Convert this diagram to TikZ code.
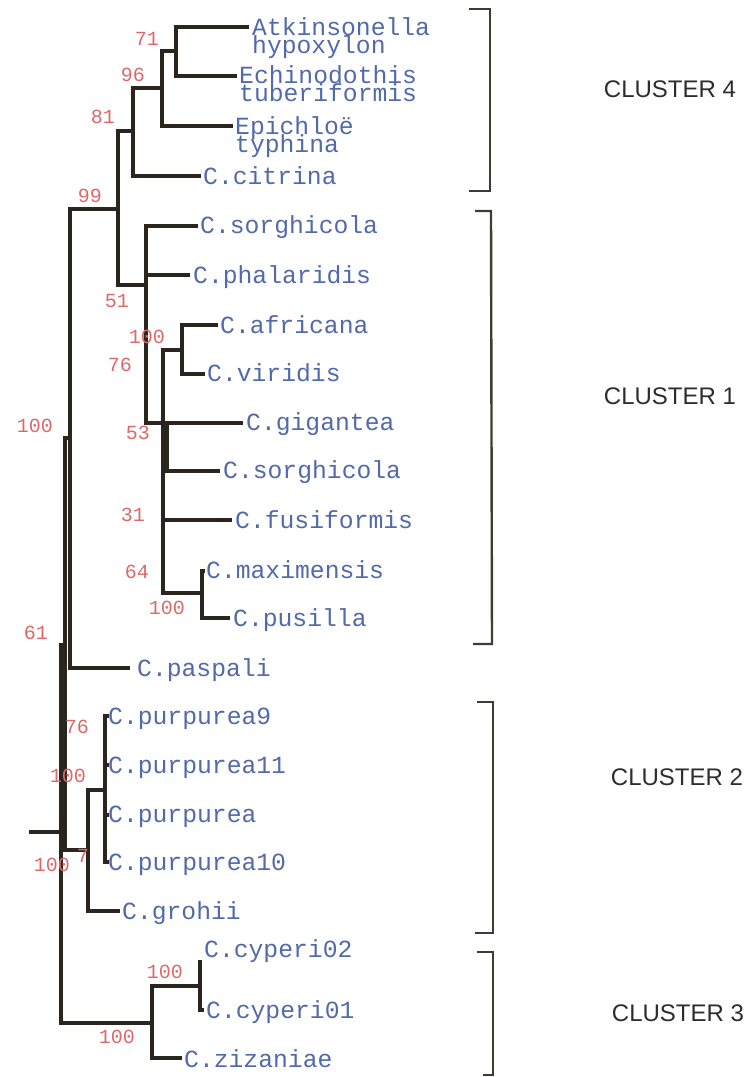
\documentclass[tikz,border=0pt]{standalone}
\usepackage{fontspec}
\setmainfont{Liberation Serif}
\newfontfamily\leaffam{Liberation Mono}
\newfontfamily\clusfam{Liberation Sans}
\definecolor{linecol}{RGB}{42,38,30}
\definecolor{leafblue}{RGB}{82,106,170}
\definecolor{bootred}{RGB}{222,104,104}
\definecolor{clusgray}{RGB}{45,45,45}
\tikzset{
  branch/.style={draw=linecol, line width=3.3pt, line join=miter},
  bracketline/.style={draw=linecol!90, line width=2.4pt},
  leaf/.style={font=\leaffam\fontsize{24.7}{16}\selectfont, text=leafblue, anchor=base west, inner sep=0pt},
  boot/.style={font=\leaffam\fontsize{20}{20}\selectfont, text=bootred, inner sep=0pt},
  clus/.style={font=\clusfam\fontsize{24}{24}\selectfont, text=clusgray, inner sep=0pt}
}
\begin{document}
\begin{tikzpicture}[x=1pt,y=-1pt]
\useasboundingbox (0,0) rectangle (752,1077);
% internal nodes
\coordinate (root0) at (29,832);
\coordinate (root) at (61,832);
\coordinate (nB) at (65,645);
\coordinate (nA) at (70,438);
\coordinate (n99) at (118,209);
\coordinate (n81) at (133,131);
\coordinate (n96) at (162,88);
\coordinate (n71) at (176,51);
\coordinate (n51) at (146,285);
\coordinate (n53) at (163,423);
\coordinate (nAV) at (182,350);
\coordinate (nGS) at (167,447);
\coordinate (n64) at (202,593);
\coordinate (nPG) at (88,850);
\coordinate (nPur) at (105,790);
\coordinate (n3) at (152,1023);
\coordinate (nCy) at (200,986);
% tips
\coordinate (atk) at (249,27);
\coordinate (ech) at (237,76);
\coordinate (epi) at (233,126);
\coordinate (cit) at (201,176);
\coordinate (sor1) at (198,226);
\coordinate (phal) at (190,275);
\coordinate (afr) at (218,325);
\coordinate (vir) at (205,374);
\coordinate (gig) at (243,423);
\coordinate (sor2) at (220,471);
\coordinate (fus) at (232,520);
\coordinate (max) at (205,571);
\coordinate (pus) at (230,618);
\coordinate (pas) at (130,668);
\coordinate (pur9) at (109,716);
\coordinate (pur11) at (109,765);
\coordinate (pur) at (109,815);
\coordinate (pur10) at (109,862);
\coordinate (gro) at (120,911);
\coordinate (cy2) at (202,962);
\coordinate (cy1) at (204,1010);
\coordinate (ziz) at (182,1058);
% branches
\draw[branch] (root0) -- (root);
\draw[branch] (root) |- (nB);
\draw[branch] (root) |- (n3);
\draw[branch] (nB) |- (nA);
\draw[branch] (nB) |- (nPG);
\draw[branch] (nA) |- (n99);
\draw[branch] (nA) |- (pas);
\draw[branch] (n99) |- (n81);
\draw[branch] (n99) |- (n51);
\draw[branch] (n81) |- (n96);
\draw[branch] (n81) |- (cit);
\draw[branch] (n96) |- (n71);
\draw[branch] (n96) |- (epi);
\draw[branch] (n71) |- (atk);
\draw[branch] (n71) |- (ech);
\draw[branch] (n51) |- (sor1);
\draw[branch] (n51) |- (phal);
\draw[branch] (n51) |- (n53);
\draw[branch] (n53) |- (nAV);
\draw[branch] (n53) |- (nGS);
\draw[branch] (n53) |- (fus);
\draw[branch] (n53) |- (n64);
\draw[branch] (nAV) |- (afr);
\draw[branch] (nAV) |- (vir);
\draw[branch] (nGS) |- (gig);
\draw[branch] (nGS) |- (sor2);
\draw[branch] (n64) |- (max);
\draw[branch] (n64) |- (pus);
\draw[branch] (nPG) |- (nPur);
\draw[branch] (nPG) |- (gro);
\draw[branch] (nPur) |- (pur9);
\draw[branch] (nPur) |- (pur11);
\draw[branch] (nPur) |- (pur);
\draw[branch] (nPur) |- (pur10);
\draw[branch] (n3) |- (nCy);
\draw[branch] (n3) |- (ziz);
\draw[branch] (nCy) |- (cy2);
\draw[branch] (nCy) |- (cy1);
% leaf labels
\node[leaf] (Latk1) at (252,35) {Atkinsonella};
\node[leaf] (Latk2) at (252,53) {hypoxylon};
\node[leaf] (Lech1) at (239,83) {Echinodothis};
\node[leaf] (Lech2) at (239,101) {tuberiformis};
\node[leaf] (Lepi1) at (235,134) {Epichloë};
\node[leaf] (Lepi2) at (235,152) {typhina};
\node[leaf] (Lcit) at (203,184) {C.citrina};
\node[leaf] (Lsor1) at (200,233) {C.sorghicola};
\node[leaf] (Lphal) at (193,283) {C.phalaridis};
\node[leaf] (Lafr) at (220,333) {C.africana};
\node[leaf] (Lvir) at (207,381) {C.viridis};
\node[leaf] (Lgig) at (246,430) {C.gigantea};
\node[leaf] (Lsor2) at (223,478) {C.sorghicola};
\node[leaf] (Lfus) at (235,528) {C.fusiformis};
\node[leaf] (Lmax) at (206,578) {C.maximensis};
\node[leaf] (Lpus) at (233,626) {C.pusilla};
\node[leaf] (Lpas) at (137,676) {C.paspali};
\node[leaf] (Lpur9) at (108,724) {C.purpurea9};
\node[leaf] (Lpur11) at (108,773) {C.purpurea11};
\node[leaf] (Lpur) at (108,822) {C.purpurea};
\node[leaf] (Lpur10) at (108,870) {C.purpurea10};
\node[leaf] (Lgro) at (122,919) {C.grohii};
\node[leaf] (Lcy2) at (204,957) {C.cyperi02};
\node[leaf] (Lcy1) at (206,1018) {C.cyperi01};
\node[leaf] (Lziz) at (184,1067) {C.zizaniae};
% bootstrap values
\node[boot] (b71) at (147,39) {71};
\node[boot] (b96) at (133,75) {96};
\node[boot] (b81) at (103,117) {81};
\node[boot] (b99) at (90,196) {99};
\node[boot] (b51) at (117,301) {51};
\node[boot] (b100a) at (147,337) {100};
\node[boot] (b76a) at (120,365) {76};
\node[boot] (b53) at (138,433) {53};
\node[boot] (b100b) at (35,426) {100};
\node[boot] (b31) at (133,515) {31};
\node[boot] (b64) at (137,572) {64};
\node[boot] (b100c) at (167,608) {100};
\node[boot] (b61) at (36,633) {61};
\node[boot] (b76b) at (77,727) {76};
\node[boot] (b100d) at (68,776) {100};
\node[boot] (b100e) at (52,865) {100};
\node[boot] (b7) at (83,856) {7};
\node[boot] (b100f) at (165,972) {100};
\node[boot] (b100g) at (117,1037) {100};
% cluster brackets
\coordinate (c4a) at (469,9);  \coordinate (c4b) at (490,9);
\coordinate (c4c) at (490,191); \coordinate (c4d) at (469,191);
\coordinate (c1a) at (475,211); \coordinate (c1b) at (491,211);
\coordinate (c1c) at (492,644); \coordinate (c1d) at (473,644);
\coordinate (c2a) at (477,702); \coordinate (c2b) at (493,702);
\coordinate (c2c) at (493,933); \coordinate (c2d) at (475,933);
\coordinate (c3a) at (477,952); \coordinate (c3b) at (493,952);
\coordinate (c3c) at (493,1075); \coordinate (c3d) at (483,1075);
\draw[bracketline] (c4a) -- (c4b) -- (c4c) -- (c4d);
\draw[bracketline] (c1a) -- (c1b) -- (c1c) -- (c1d);
\draw[bracketline] (c2a) -- (c2b) -- (c2c) -- (c2d);
\draw[bracketline] (c3a) -- (c3b) -- (c3c) -- (c3d);
\node[clus] (C4) at (670,89) {CLUSTER 4};
\node[clus] (C1) at (670,396) {CLUSTER 1};
\node[clus] (C2) at (677,777) {CLUSTER 2};
\node[clus] (C3) at (678,1013) {CLUSTER 3};
\end{tikzpicture}
\end{document}
